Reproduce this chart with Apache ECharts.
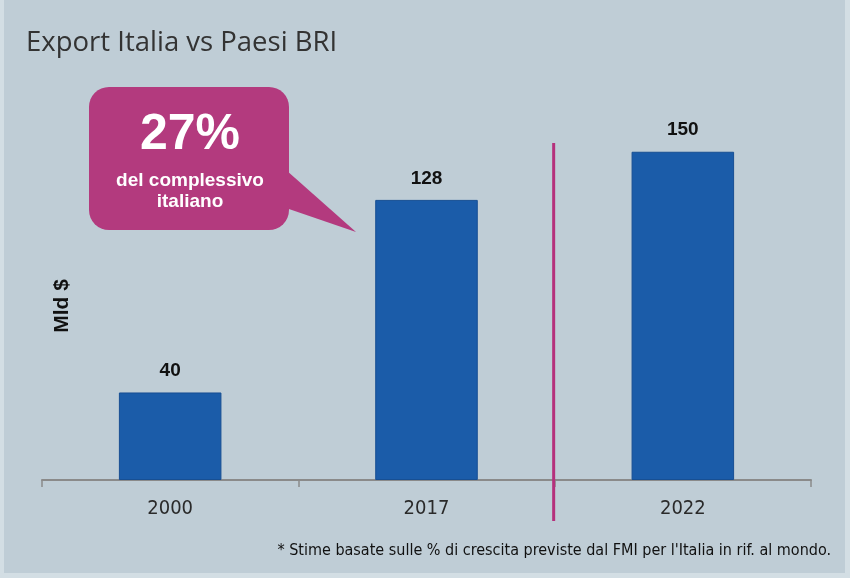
<!DOCTYPE html>
<html><head><meta charset="utf-8">
<script src="https://cdn.jsdelivr.net/npm/echarts@6/dist/echarts.min.js"></script>
<style>html,body{margin:0;padding:0;background:#e4ebef;}#c{width:850px;height:578px;}</style>
</head><body><div id="c"></div>
<script>
const categories = ['2000', '2017', '2022'];
const values = [40, 128, 150];
const titleText = 'Export Italia vs Paesi BRI';
const axisName = 'Mld $';
const calloutBig = '27%';
const calloutSmall = 'del complessivo\nitaliano';
const footnote = "* Stime basate sulle % di crescita previste dal FMI per l'Italia in rif. al mondo.";

const chart = echarts.init(document.getElementById('c'));
const option = {
  backgroundColor: '#d3dee4',
  animation: false,
  title: {
    text: titleText, left: 21, top: 24,
    textStyle: { fontFamily: 'Open Sans', fontSize: 27.5, fontWeight: 'normal', color: '#333333' }
  },
  grid: { left: 42, right: 39, top: 108, bottom: 98 },
  xAxis: {
    type: 'category', data: categories,
    axisLine: { lineStyle: { color: '#8a8a8a', width: 2 } },
    axisTick: { show: true, length: 7, lineStyle: { color: '#8a8a8a', width: 1.5 } },
    axisLabel: { margin: 19, fontSize: 20, fontFamily: '"DejaVu Sans Condensed", "Noto Sans"', color: '#2a2a2a' }
  },
  yAxis: {
    type: 'value', min: 0, max: 170,
    show: false
  },
  series: [{
    type: 'bar', data: values, barWidth: '40%',
    itemStyle: { color: '#1b5ca9', borderColor: '#174f93', borderWidth: 1 },
    label: {
      show: true, position: 'top', distance: 12,
      fontSize: 19, fontWeight: 'bold', fontFamily: 'Liberation Sans', color: '#111111'
    }
  }]
};
chart.setOption(option);

const c1 = chart.convertToPixel({ xAxisIndex: 0 }, categories[1]);
const c2 = chart.convertToPixel({ xAxisIndex: 0 }, categories[2]);
const sepX = (c1 + c2) / 2 - 1;
const yBase = chart.convertToPixel({ yAxisIndex: 0 }, 0);
const yTop = chart.convertToPixel({ yAxisIndex: 0 }, 154);

chart.setOption({
  graphic: [
    { type: 'rect', z: -10, silent: true, shape: { x: 4, y: 0, width: 841, height: 573 }, style: { fill: '#bfcdd6' } },
    { type: 'line', z: 10, shape: { x1: sepX, y1: yTop, x2: sepX, y2: yBase + 41 }, style: { stroke: '#b5307c', lineWidth: 3 } },
    { type: 'polygon', z: 10, shape: { points: [[286, 170], [356, 232], [286, 208]] }, style: { fill: '#b33a7e' } },
    { type: 'rect', z: 10, shape: { x: 89, y: 87, width: 200, height: 143, r: 20 }, style: { fill: '#b33a7e' } },
    { type: 'text', z: 11, style: { x: 190, y: 135, text: calloutBig, align: 'center', verticalAlign: 'middle', fill: '#ffffff', font: 'bold 50px "Liberation Sans"' } },
    { type: 'text', z: 11, style: { x: 190, y: 191, text: calloutSmall, align: 'center', verticalAlign: 'middle', fill: '#ffffff', font: 'bold 19px "Liberation Sans"', lineHeight: 21 } },
    { type: 'text', z: 11, rotation: Math.PI / 2, x: 62, y: 306, style: { x: 0, y: 0, text: axisName, align: 'center', verticalAlign: 'middle', fill: '#111111', font: 'bold 21px "Liberation Sans"' } },
    { type: 'text', z: 11, style: { x: 831, y: 551, text: footnote, align: 'right', verticalAlign: 'middle', fill: '#111111', font: '16px "DejaVu Sans Condensed", "Noto Sans"' } }
  ]
});
</script></body></html>
